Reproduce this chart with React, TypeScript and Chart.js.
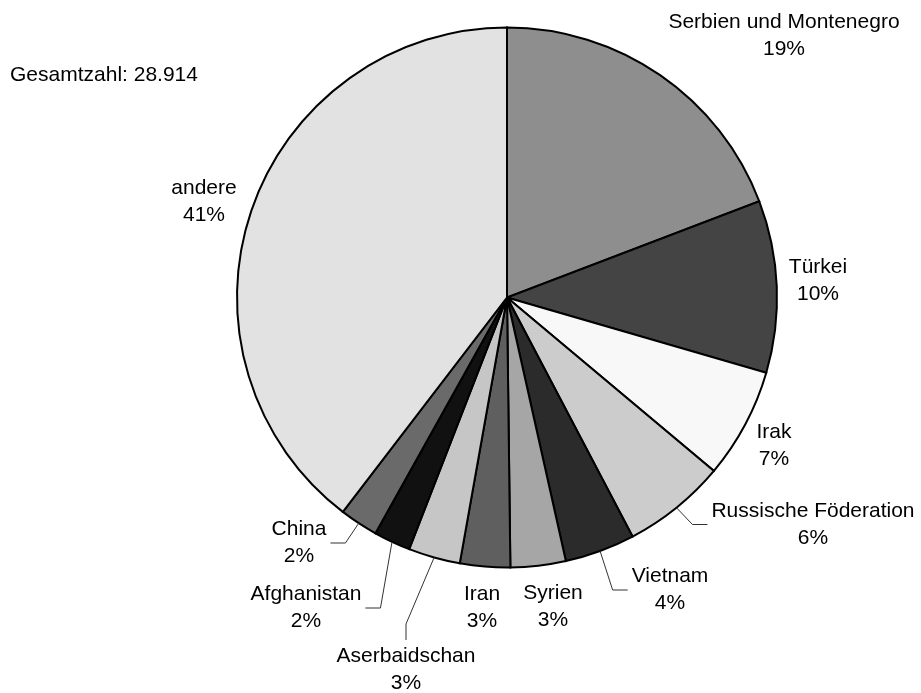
import React, { useEffect, useRef } from "react";
import { Chart, registerables } from "chart.js";

Chart.register(...registerables);

// ---- data ----
const countries = [
  "Serbien und Montenegro",
  "Türkei",
  "Irak",
  "Russische Föderation",
  "Vietnam",
  "Syrien",
  "Iran",
  "Aserbaidschan",
  "Afghanistan",
  "China",
  "andere",
];
const shares = [19.2, 10.3, 6.6, 6.2, 4.2, 3.3, 3.0, 3.1, 2.2, 2.3, 39.6];
const shareLabels = ["19%", "10%", "7%", "6%", "4%", "3%", "3%", "3%", "2%", "2%", "41%"];
const totalLabel = "Gesamtzahl: 28.914";

// ---- styles / layout ----
const sliceColors = [
  "#8e8e8e",
  "#444444",
  "#f8f8f8",
  "#cccccc",
  "#2b2b2b",
  "#a6a6a6",
  "#5f5f5f",
  "#c6c6c6",
  "#111111",
  "#6a6a6a",
  "#e2e2e2",
];

type Side = "left" | "right" | "top" | null;
const labelLayout: { dx: number; dy: number; leader: Side }[] = [
  { dx: 277, dy: -261.5, leader: null },
  { dx: 311, dy: -16.5, leader: null },
  { dx: 267, dy: 148, leader: null },
  { dx: 306, dy: 227, leader: "left" },
  { dx: 163, dy: 292.5, leader: "left" },
  { dx: 46, dy: 309, leader: null },
  { dx: -25, dy: 310.5, leader: null },
  { dx: -101, dy: 372.5, leader: "top" },
  { dx: -201, dy: 310.5, leader: "right" },
  { dx: -208, dy: 245.5, leader: "right" },
  { dx: -303, dy: -96, leader: null },
];

const FONT = '21px "Liberation Sans", Arial, sans-serif';
const LINE_H = 27;

const labelPlugin = {
  id: "pieLabels",
  afterDraw(chart: any) {
    const ctx: CanvasRenderingContext2D = chart.ctx;
    const meta = chart.getDatasetMeta(0);
    ctx.save();
    ctx.font = FONT;
    ctx.fillStyle = "#000";
    ctx.textAlign = "center";
    ctx.textBaseline = "middle";
    meta.data.forEach((arc: any, i: number) => {
      const { x, y, startAngle, endAngle, outerRadius } = arc.getProps(
        ["x", "y", "startAngle", "endAngle", "outerRadius"],
        true
      );
      const lay = labelLayout[i];
      const lx = x + lay.dx;
      const ly = y + lay.dy;
      const lines = [countries[i], shareLabels[i]];
      ctx.fillText(lines[0], lx, ly - LINE_H / 2);
      ctx.fillText(lines[1], lx, ly + LINE_H / 2);
      if (lay.leader) {
        const w = Math.max(...lines.map((t) => ctx.measureText(t).width));
        const h = LINE_H * 2;
        const mid = (startAngle + endAngle) / 2;
        const sx = x + outerRadius * Math.cos(mid);
        const sy = y + outerRadius * Math.sin(mid);
        let ex = lx,
          ey = ly,
          bx = lx,
          by = ly;
        if (lay.leader === "left") {
          ex = lx - w / 2 - 4;
          bx = ex - 15;
        } else if (lay.leader === "right") {
          ex = lx + w / 2 + 4;
          bx = ex + 15;
        } else {
          ey = ly - h / 2 - 3;
          by = ey - 16;
        }
        ctx.beginPath();
        ctx.strokeStyle = "#333";
        ctx.lineWidth = 1;
        ctx.moveTo(sx, sy);
        ctx.lineTo(bx, by);
        ctx.lineTo(ex, ey);
        ctx.stroke();
      }
    });
    ctx.textAlign = "left";
    ctx.fillText(totalLabel, 10, 75);
    ctx.restore();
  },
};

export default function App() {
  const ref = useRef<HTMLCanvasElement | null>(null);
  useEffect(() => {
    document.body.style.margin = "0";
    document.body.style.overflow = "hidden";
    const canvas = ref.current!;
    const chart = new Chart(canvas, {
      type: "pie",
      data: {
        labels: countries,
        datasets: [
          {
            data: shares,
            backgroundColor: sliceColors,
            borderColor: "#000",
            borderWidth: 2,
            borderJoinStyle: "miter",
          } as any,
        ],
      },
      options: {
        responsive: false,
        animation: false,
        devicePixelRatio: 1,
        radius: 270,
        layout: { padding: { left: 93, right: 0, top: 0, bottom: 98 } },
        plugins: {
          legend: { display: false },
          tooltip: { enabled: false },
        },
      } as any,
      plugins: [labelPlugin],
    });
    return () => chart.destroy();
  }, []);
  return (
    <div style={{ width: 921, height: 693, background: "#fff" }}>
      <canvas ref={ref} width={921} height={693} style={{ display: "block", width: 921, height: 693 }} />
    </div>
  );
}
